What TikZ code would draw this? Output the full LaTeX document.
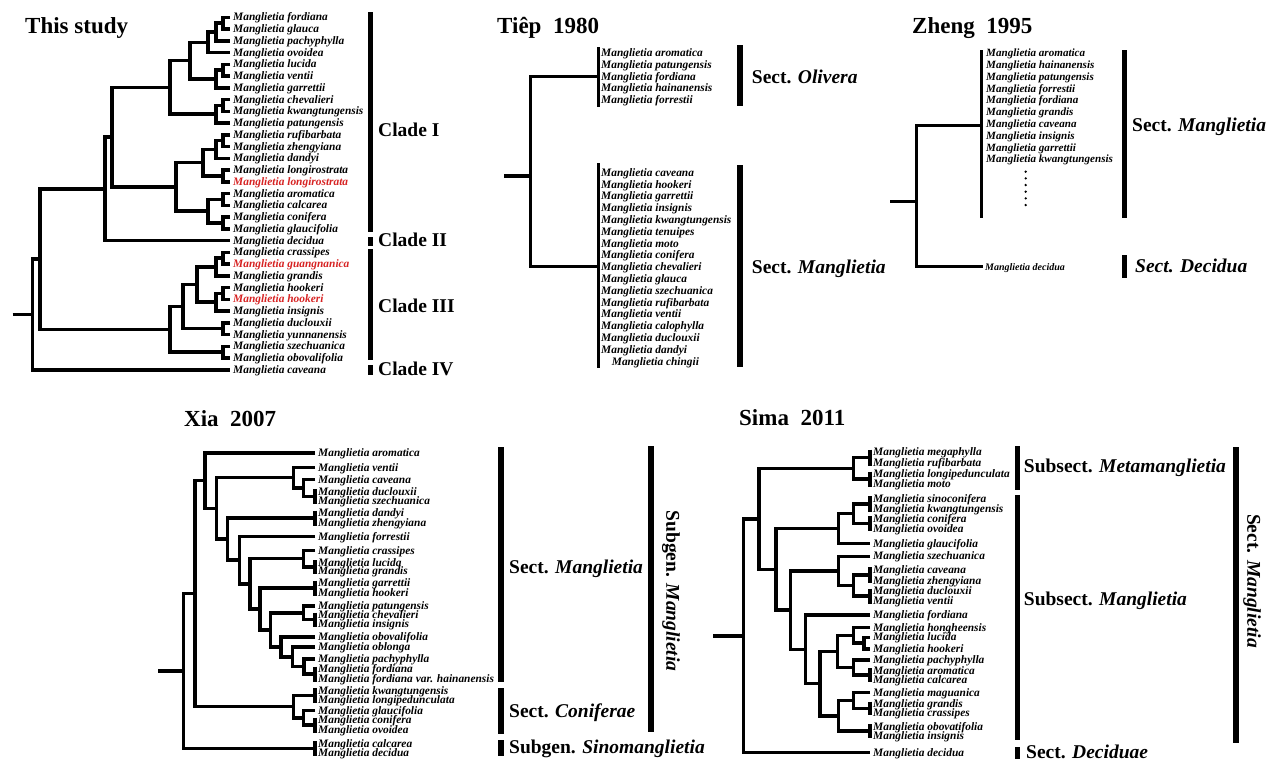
\documentclass[tikz,border=0pt]{standalone}
\usepackage{fontspec}
\setmainfont{Liberation Serif}
\definecolor{myred}{RGB}{215,35,35}
\newcommand\tbranch[5]{\draw[br] (#2,#3) -| (#1,#5) -- (#4,#5);}
\newcommand\pbar[3]{\draw[br] (#1,{#2-2.5}) -- (#1,{#3+2.5});}
\begin{document}
\begin{tikzpicture}[x=1pt,y=-1pt,
  br/.style={line width=3.5pt, line join=miter},
  tbar/.style={line width=3pt},
  leaf/.style={font=\fontsize{11.4}{12}\selectfont\bfseries\itshape, inner sep=0pt, anchor=west, text height=8pt, text depth=1pt},
  zleaf/.style={leaf, font=\fontsize{11.1}{12}\selectfont\bfseries\itshape},
  grp/.style={font=\fontsize{19.5}{22}\selectfont\bfseries, inner sep=0pt, anchor=base west},
  ttl/.style={font=\fontsize{23}{26}\selectfont\bfseries, inner sep=0pt, anchor=base west}]
\useasboundingbox (0,0) rectangle (1280,764);
\fill[white] (0,0) rectangle (1280,764);

% titles
\node[ttl] (t1) at (25,33) {This study};
\node[ttl] (t2) at (497,33) {Tiêp~~1980};
\node[ttl] (t3) at (912,33) {Zheng~~1995};
\node[ttl] (t4) at (184,426) {Xia~~2007};
\node[ttl] (t5) at (739,425) {Sima~~2011};

% ---------------- This study ----------------
\foreach \n/\c [count=\i from 0] in {fordiana/black, glauca/black, pachyphylla/black, ovoidea/black, lucida/black, ventii/black, garrettii/black, chevalieri/black, kwangtungensis/black, patungensis/black, rufibarbata/black, zhengyiana/black, dandyi/black, longirostrata/black, longirostrata/myred, aromatica/black, calcarea/black, conifera/black, glaucifolia/black, decidua/black, crassipes/black, guangnanica/myred, grandis/black, hookeri/black, hookeri/myred, insignis/black, duclouxii/black, yunnanensis/black, szechuanica/black, obovalifolia/black, caveana/black}
  \node[leaf, text=\c] (ts\i) at (233,{17.3+11.75*\i}) {Manglietia \n};

\tbranch{223}{230}{17.3}{230}{29.05}
\tbranch{216}{223}{23.18}{230}{40.8}
\tbranch{208}{216}{31.99}{230}{52.55}
\tbranch{223}{230}{64.3}{230}{76.05}
\tbranch{216}{223}{70.18}{230}{87.8}
\tbranch{190}{208}{42.27}{216}{78.99}
\tbranch{223}{230}{99.55}{230}{111.3}
\tbranch{216}{223}{105.43}{230}{123.05}
\tbranch{170}{190}{60.63}{216}{114.24}
\tbranch{223}{230}{134.8}{230}{146.55}
\tbranch{216}{223}{140.68}{230}{158.3}
\tbranch{223}{230}{170.05}{230}{181.8}
\tbranch{203}{216}{149.49}{223}{175.93}
\tbranch{223}{230}{193.55}{230}{205.3}
\tbranch{223}{230}{217.05}{230}{228.8}
\tbranch{208}{223}{199.43}{223}{222.93}
\tbranch{176}{203}{162.71}{208}{211.18}
\tbranch{112}{170}{87.43}{176}{186.94}
\tbranch{105}{112}{137.19}{230}{240.55}
\tbranch{223}{230}{252.3}{230}{264.05}
\tbranch{216}{223}{258.18}{230}{275.8}
\tbranch{223}{230}{287.55}{230}{299.3}
\tbranch{216}{223}{293.43}{230}{311.05}
\tbranch{197}{216}{266.99}{216}{302.24}
\tbranch{223}{230}{322.8}{230}{334.55}
\tbranch{183}{197}{284.62}{223}{328.68}
\tbranch{223}{230}{346.3}{230}{358.05}
\tbranch{170}{183}{306.65}{223}{352.18}
\tbranch{40}{105}{188.87}{170}{329.41}
\tbranch{32.3}{40}{259.14}{230}{369.8}
\draw[br] (12.7,314.47) -- (32.3,314.47);

\fill (367.7,12) rectangle (373.3,232);
\fill (367.7,236.7) rectangle (373.3,246);
\fill (367.7,249.3) rectangle (373.3,360);
\fill (367.7,365) rectangle (373.3,375);
\node[grp] (c1) at (378,136.7) {Clade I};
\node[grp] (c2) at (378,246.7) {Clade II};
\node[grp] (c3) at (378,312.3) {Clade III};
\node[grp] (c4) at (378,375) {Clade IV};

% ---------------- Tiep 1980 ----------------
\draw[br] (504,176) -- (530.7,176);
\draw[br] (598.5,76.7) -| (530.7,266.7) -- (598.5,266.7);
\draw[tbar] (598.5,47.3) -- (598.5,107.3);
\draw[tbar] (598.5,163.3) -- (598.5,368.3);
\foreach \n [count=\i from 0] in {aromatica, patungensis, fordiana, hainanensis, forrestii}
  \node[leaf] (tp\i) at (601,{53.3+11.7*\i}) {Manglietia \n};
\foreach \n [count=\i from 0] in {caveana, hookeri, garrettii, insignis, kwangtungensis, tenuipes, moto, conifera, chevalieri, glauca, szechuanica, rufibarbata, ventii, calophylla, duclouxii, dandyi}
  \node[leaf] (tq\i) at (601,{172.7+11.81*\i}) {Manglietia \n};
\node[leaf] (tq16) at (611.7,361.7) {Manglietia chingii};
\fill (736.7,45) rectangle (742.7,106);
\fill (736.7,165) rectangle (742.7,366.7);
\node[grp] (tg1) at (751.7,83) {Sect. \textit{Olivera}};
\node[grp] (tg2) at (751.7,273) {Sect. \textit{Manglietia}};

% ---------------- Zheng 1995 ----------------
\draw[br] (890,201.7) -- (916.7,201.7);
\draw[br] (982,125.7) -| (916.7,266.7) -- (983.3,266.7);
\draw[tbar] (981.7,50) -- (981.7,218.3);
\foreach \n [count=\i from 0] in {aromatica, hainanensis, patungensis, forrestii, fordiana, grandis, caveana, insignis, garrettii, kwangtungensis}
  \node[zleaf] (zh\i) at (986,{53.3+11.78*\i}) {Manglietia \n};
\foreach \k in {0,...,5} \fill (1025.7,{171.7+6.67*\k}) circle (1.3);
\node[leaf, font=\fontsize{10}{11}\selectfont\bfseries\itshape] (zh10) at (985,266.7) {Manglietia decidua};
\fill (1121.5,50) rectangle (1127,218.3);
\fill (1121.5,255) rectangle (1127,278.3);
\node[grp] (zg1) at (1132,131.7) {Sect. \textit{Manglietia}};
\node[grp, font=\fontsize{19.5}{22}\selectfont\bfseries\itshape] (zg2) at (1135,272) {Sect. Decidua};

% ---------------- Xia 2007 ----------------
\foreach \n/\y [count=\i from 0] in {aromatica/453, ventii/467.5, caveana/479.5, duclouxii/491.5, szechuanica/501, dandyi/513, zhengyiana/523, forrestii/536.5, crassipes/550.5, lucida/562.5, grandis/571, garrettii/583, hookeri/593, patungensis/606, chevalieri/615, insignis/624, obovalifolia/637, oblonga/647, pachyphylla/659, fordiana/669, fordiana var. hainanensis/679, kwangtungensis/690.5, longipedunculata/700, glaucifolia/710.5, conifera/720, ovoidea/730, calcarea/743.5, decidua/753}
  \node[leaf] (xa\i) at (318,\y) {Manglietia \n};
\pbar{315}{491.5}{501}
\pbar{315}{513}{523}
\pbar{315}{562.5}{571}
\pbar{315}{583}{593}
\pbar{315}{615}{624}
\pbar{315}{669}{679}
\pbar{315}{690.5}{700}
\pbar{315}{720}{730}
\pbar{315}{743.5}{753}
\tbranch{304}{315}{659}{315}{674}
\tbranch{292.7}{315}{647}{304}{666.5}
\tbranch{281}{315}{637}{292.7}{656.75}
\tbranch{303.3}{315}{606}{315}{619.5}
\tbranch{270.7}{303.3}{612.75}{281}{646.9}
\tbranch{260}{315}{588}{270.7}{629.8}
\tbranch{303.3}{315}{550.5}{315}{566.75}
\tbranch{250}{303.3}{558.6}{260}{608.9}
\tbranch{239.3}{315}{536.5}{250}{583.8}
\tbranch{227.7}{315}{518}{239.3}{560.1}
\tbranch{303.3}{315}{479.5}{315}{496.25}
\tbranch{293.3}{315}{467.5}{303.3}{487.9}
\tbranch{216.7}{293.3}{477.7}{227.7}{539}
\tbranch{205}{315}{453}{216.7}{508.4}
\tbranch{303.3}{315}{710.5}{315}{725}
\tbranch{293.3}{315}{695.25}{303.3}{717.75}
\tbranch{195}{205}{480.7}{293.3}{706.5}
\tbranch{183.3}{195}{593.6}{315}{748.25}
\draw[br] (158.3,670.9) -- (183.3,670.9);
\fill (498,447) rectangle (503.5,682);
\fill (498,688) rectangle (503.5,734);
\fill (498,740) rectangle (503.5,756);
\fill (648,446) rectangle (653.5,732);
\node[grp] (xg1) at (509,573) {Sect. \textit{Manglietia}};
\node[grp] (xg2) at (509,717) {Sect. \textit{Coniferae}};
\node[grp] (xg3) at (509,753) {Subgen. \textit{Sinomanglietia}};
\node[grp, anchor=center, rotate=-90] (xg4) at (671,591) {Subgen. \textit{Manglietia}};

% ---------------- Sima 2011 ----------------
\foreach \n/\y [count=\i from 0] in {megaphylla/452, rufibarbata/463, longipedunculata/474, moto/484, sinoconifera/498.5, kwangtungensis/509, conifera/518.5, ovoidea/528.5, glaucifolia/543.5, szechuanica/556.3, caveana/569.5, zhengyiana/580.5, duclouxii/591, ventii/601, fordiana/615, hongheensis/627.7, lucida/637.3, hookeri/649, pachyphylla/660, aromatica/670.7, calcarea/679.5, maguanica/692.7, grandis/704, crassipes/712.7, obovatifolia/726.7, insignis/735.7, decidua/752.7}
  \node[leaf] (sm\i) at (873,\y) {Manglietia \n};
\pbar{870}{452}{463}
\pbar{870}{474}{484}
\pbar{870}{498.5}{509}
\pbar{870}{518.5}{528.5}
\pbar{870}{569.5}{580.5}
\pbar{870}{591}{601}
\pbar{870}{670.7}{679.5}
\pbar{870}{704}{712.7}
\pbar{870}{726.7}{735.7}
\tbranch{853.5}{870}{457.5}{870}{479}
\tbranch{853.5}{870}{503.75}{870}{523.5}
\tbranch{838.7}{853.5}{513.6}{870}{543.5}
\tbranch{853.5}{870}{575}{870}{596}
\tbranch{838.7}{870}{556.3}{853.5}{585.5}
\tbranch{864}{870}{637.3}{870}{649}
\tbranch{853.5}{870}{627.7}{864}{643.15}
\tbranch{853.5}{870}{660}{870}{675.1}
\tbranch{837.6}{853.5}{635.4}{853.5}{667.55}
\tbranch{853.5}{870}{692.7}{870}{708.35}
\tbranch{838.7}{853.5}{700.5}{870}{731.2}
\tbranch{820.2}{837.6}{651.5}{838.7}{715.85}
\tbranch{805.4}{870}{615}{820.2}{683.7}
\tbranch{790.6}{838.7}{570.9}{805.4}{649.35}
\tbranch{775.8}{838.7}{528.6}{790.6}{610.1}
\tbranch{759.2}{853.5}{468.25}{775.8}{569.35}
\tbranch{743.7}{759.2}{518.8}{870}{752.7}
\draw[br] (713,635.75) -- (743.7,635.75);
\fill (1014.5,446) rectangle (1020,490);
\fill (1014.5,495) rectangle (1020,740);
\fill (1014.5,746.7) rectangle (1020,759.3);
\fill (1233,446.7) rectangle (1238.5,743.3);
\node[grp] (sg1) at (1023.7,472) {Subsect. \textit{Metamanglietia}};
\node[grp] (sg2) at (1023.7,605) {Subsect. \textit{Manglietia}};
\node[grp] (sg3) at (1026,758) {Sect. \textit{Deciduae}};
\node[grp, anchor=center, rotate=-90] (sg4) at (1252,581) {Sect. \textit{Manglietia}};
\end{tikzpicture}
\end{document}
